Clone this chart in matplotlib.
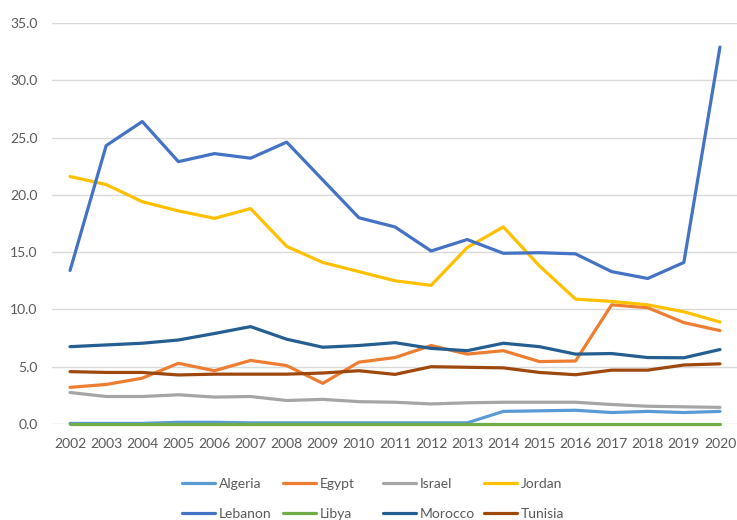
import numpy as np
import matplotlib.pyplot as plt

plt.rcParams['font.family'] = ['Lato', 'DejaVu Sans']

years = list(range(2002, 2021))

algeria = [0.05, 0.05, 0.05, 0.15, 0.15, 0.1, 0.1, 0.1, 0.1, 0.1, 0.1, 0.1, 1.1, 1.15, 1.2, 1.0, 1.1, 1.0, 1.1]
egypt = [3.2, 3.45, 4.0, 5.3, 4.65, 5.55, 5.1, 3.55, 5.4, 5.8, 6.85, 6.1, 6.4, 5.45, 5.5, 10.4, 10.15, 8.85, 8.15]
israel = [2.75, 2.4, 2.4, 2.55, 2.35, 2.4, 2.05, 2.15, 1.95, 1.9, 1.75, 1.85, 1.9, 1.9, 1.9, 1.7, 1.55, 1.5, 1.45]
jordan = [21.6, 20.9, 19.4, 18.6, 17.95, 18.8, 15.5, 14.1, 13.3, 12.5, 12.1, 15.4, 17.2, 13.8, 10.9, 10.7, 10.4, 9.8, 8.9]
lebanon = [13.4, 24.3, 26.4, 22.9, 23.6, 23.2, 24.6, 21.3, 18.0, 17.2, 15.1, 16.1, 14.9, 14.95, 14.85, 13.3, 12.7, 14.1, 32.9]
libya = [0.0] * 19
morocco = [6.75, 6.9, 7.05, 7.33, 7.9, 8.5, 7.4, 6.7, 6.85, 7.1, 6.6, 6.4, 7.05, 6.75, 6.1, 6.15, 5.8, 5.78, 6.5]
tunisia = [4.57, 4.5, 4.5, 4.28, 4.35, 4.35, 4.35, 4.45, 4.65, 4.33, 5.0, 4.95, 4.9, 4.5, 4.3, 4.7, 4.7, 5.15, 5.25]

series = [
    ('Algeria', algeria, '#5B9BD5'),
    ('Egypt', egypt, '#ED7D31'),
    ('Israel', israel, '#A5A5A5'),
    ('Jordan', jordan, '#FFC000'),
    ('Lebanon', lebanon, '#4472C4'),
    ('Libya', libya, '#70AD47'),
    ('Morocco', morocco, '#255E91'),
    ('Tunisia', tunisia, '#9E480E'),
]

fig = plt.figure(figsize=(7.37, 5.2), dpi=100)
ax = fig.add_axes([52 / 737, 1 - 424 / 520, 686 / 737, 401 / 520])

x = np.arange(len(years))
lines = []
for name, vals, col in series:
    ln, = ax.plot(x, vals, color=col, linewidth=2.3, label=name,
                  solid_capstyle='round', clip_on=False)
    lines.append(ln)

ax.set_xlim(-0.5, len(years) - 0.5)
ax.set_ylim(0, 35)
ax.set_yticks(np.arange(0, 36, 5))
ax.set_yticklabels([f'{v:.1f}' for v in np.arange(0, 36, 5)])
ax.set_xticks(x)
ax.set_xticklabels([str(y) for y in years])
ax.tick_params(length=0, labelsize=10, colors='#595959')
ax.tick_params(axis='x', pad=10)
ax.tick_params(axis='y', pad=10.5)
ax.grid(axis='y', color='#D9D9D9', linewidth=1)
ax.set_axisbelow(True)
for s in ax.spines.values():
    s.set_visible(False)

# legend: 4 columns, 2 rows, evenly spaced like the original
col_left = [182, 283, 383, 484]
for i, xl in enumerate(col_left):
    hs = [lines[i], lines[i + 4]]
    leg = fig.legend(hs, [h.get_label() for h in hs], loc='center left',
                     bbox_to_anchor=(xl / 737, 1 - 499 / 520), frameon=False,
                     fontsize=10, labelcolor='#595959', handlelength=2.4,
                     handletextpad=0.25, labelspacing=1.3, borderpad=0,
                     borderaxespad=0)

fig.savefig('out.png', dpi=100)
